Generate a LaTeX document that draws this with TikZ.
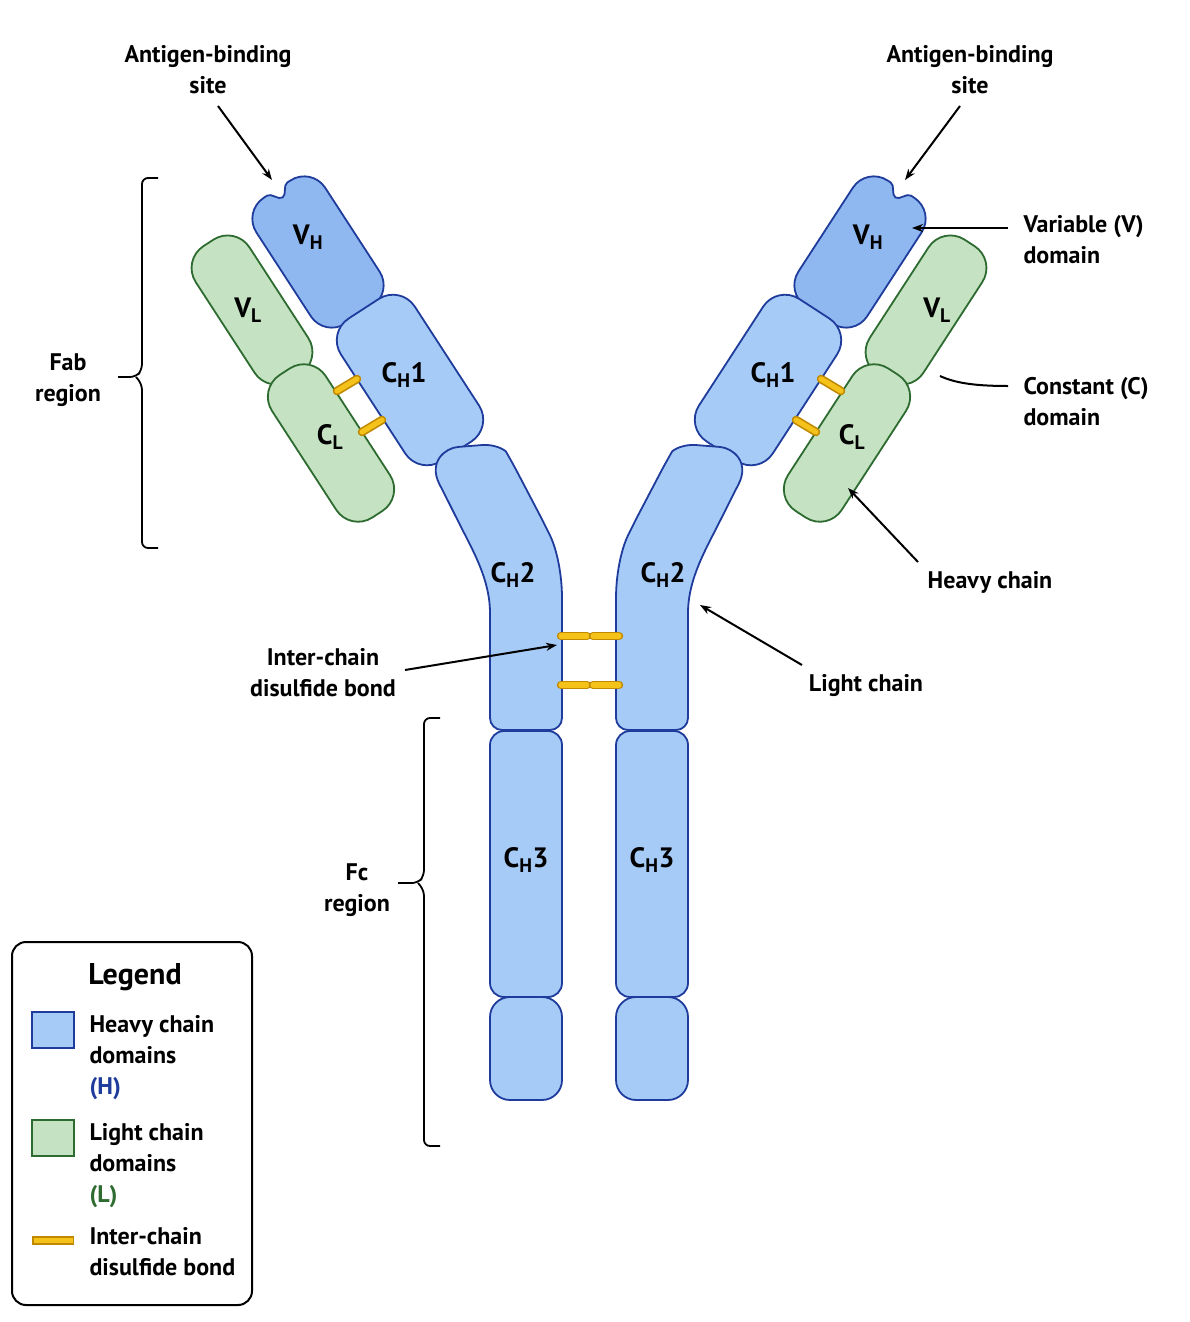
\documentclass[tikz,border=0pt]{standalone}
\usepackage{fontspec}
\setmainfont{PT Sans}
\usetikzlibrary{arrows.meta}
\definecolor{hfill}{HTML}{A6CBF7}
\definecolor{vhfill}{HTML}{8FB8F0}
\definecolor{hline}{HTML}{1F3C9C}
\definecolor{lfill}{HTML}{C5E3C3}
\definecolor{lline}{HTML}{2E6B30}
\definecolor{bond}{HTML}{F5C21A}
\definecolor{bondline}{HTML}{C08A00}
\tikzset{
 heavy/.style={draw=hline,fill=hfill,line width=1.8pt},
 vheavy/.style={draw=hline,fill=vhfill,line width=1.8pt},
 light/.style={draw=lline,fill=lfill,line width=1.8pt},
 bondo/.style={line width=8.5pt,draw=bondline,line cap=round},
 bondi/.style={line width=5.2pt,draw=bond,line cap=round},
 lab/.style={font=\bfseries\fontsize{24}{31}\selectfont,align=center},
 dom/.style={font=\bfseries\fontsize{28}{30}\selectfont},
 arr/.style={line width=2pt,-{Stealth[length=11pt,width=8pt]}},
 brk/.style={line width=1.8pt}
}
\newcommand{\rrect}[6]{% style, cx, cy, w, h, angle
 \path[#1,rounded corners=26pt,rotate around={#6:(#2,#3)}] ({#2-#4/2},{#3-#5/2}) rectangle ({#2+#4/2},{#3+#5/2});}
\newcommand{\bondbar}[4]{\draw[bondo] (#1,#2)--(#3,#4); \draw[bondi] (#1,#2)--(#3,#4);}
\newcommand{\armhalf}{%
 \rrect{light}{252}{310}{64}{160}{33}
 \rrect{light}{331}{443}{64}{170}{33}
 \path[vheavy,rotate around={33:(318,252)}] (277,202) arc[start angle=180,end angle=270,radius=25] -- (306,177) .. controls (311,177) and (313,187) .. (318,187) .. controls (323,187) and (325,177) .. (330,177) -- (334,177) arc[start angle=270,end angle=360,radius=25] -- (359,302) arc[start angle=0,end angle=90,radius=25] -- (302,327) arc[start angle=90,end angle=180,radius=25] -- cycle;
 \rrect{heavy}{410}{380}{88}{170}{33}
 \path[heavy,rounded corners=12pt] (490,730) -- (490,625) .. controls (490,585) and (478,560) .. (460,525) -- (445,495) .. controls (428,462) and (445,448) .. (470,446) .. controls (495,444) and (505,450) .. (512,462) -- (545,525) .. controls (557,550) and (562,575) .. (562,610) -- (562,730) -- cycle;
 \path[heavy,rounded corners=14pt] (490,731) rectangle (562,997);
 \path[heavy,rounded corners=20pt] (490,997) rectangle (562,1100);
 \bondbar{337}{391}{357}{379}
 \bondbar{362}{432}{382}{420}
}
\begin{document}
\begin{tikzpicture}[x=1pt,y=-1pt]
\useasboundingbox[fill=white] (0,0) rectangle (1190,1322);
\armhalf
\begin{scope}[shift={(1178,0)},xscale=-1]
\armhalf
\end{scope}
% hinge bonds
\bondbar{561}{636}{587}{636}\bondbar{593}{636}{619}{636}
\bondbar{561}{685}{587}{685}\bondbar{593}{685}{619}{685}
% domain labels
\node[dom] (vhl) at (308,237) {V\textsubscript{H}};
\node[dom] (vll) at (248,310) {V\textsubscript{L}};
\node[dom] (ch1l) at (404,375) {C\textsubscript{H}1};
\node[dom] (cll) at (330,437) {C\textsubscript{L}};
\node[dom] (ch2l) at (513,575) {C\textsubscript{H}2};
\node[dom] (ch3l) at (526,860) {C\textsubscript{H}3};
\node[dom] (vhr) at (868,237) {V\textsubscript{H}};
\node[dom] (vlr) at (937,310) {V\textsubscript{L}};
\node[dom] (ch1r) at (773,375) {C\textsubscript{H}1};
\node[dom] (clr) at (852,437) {C\textsubscript{L}};
\node[dom] (ch2r) at (663,575) {C\textsubscript{H}2};
\node[dom] (ch3r) at (652,860) {C\textsubscript{H}3};
% annotations
\node[lab] (abl) at (208,70) {Antigen-binding\\site};
\node[lab] (abr) at (970,70) {Antigen-binding\\site};
\coordinate (abtl) at (272,180); \coordinate (abtr) at (905,180);
\draw[arr] (218,106) -- (abtl);
\draw[arr] (960,106) -- (abtr);
\node[lab,align=left,anchor=west] (var) at (1020,240) {Variable (V)\\domain};
\coordinate (vart) at (912,228);
\draw[arr] (1008,228) -- (vart);
\node[lab,align=left,anchor=west] (con) at (1020,402) {Constant (C)\\domain};
\coordinate (cont) at (940,376);
\draw[line width=2pt] (1008,386) .. controls (975,386) and (955,383) .. (cont);
\node[lab] (hc) at (990,582) {Heavy chain};
\coordinate (hct) at (848,488);
\draw[arr] (918,562) -- (hct);
\node[lab] (lc) at (866,686) {Light chain};
\coordinate (lct) at (700,605);
\draw[arr] (802,665) -- (lct);
\node[lab] (icb) at (323,673) {Inter-chain\\disulfide bond};
\coordinate (icbt) at (557,645);
\draw[arr] (405,670) -- (icbt);
\node[lab] (fab) at (68,380) {Fab\\region};
\node[lab] (fc) at (357,890) {Fc\\region};
% brackets
\draw[brk,rounded corners=6pt] (158,178) -- (142,178) -- (142,370) -- (136,377) -- (118,377);
\draw[brk,rounded corners=6pt] (136,377) -- (142,384) -- (142,548) -- (158,548);
\draw[brk,rounded corners=6pt] (440,718) -- (424,718) -- (424,876) -- (418,883) -- (398,883);
\draw[brk,rounded corners=6pt] (418,883) -- (424,890) -- (424,1146) -- (440,1146);
% legend
\draw[line width=2pt,rounded corners=14pt] (12,942) rectangle (252,1305);
\node[font=\bfseries\fontsize{30}{32}\selectfont] (leg) at (135,977) {Legend};
\draw[heavy] (32,1012) rectangle (74,1048);
\node[lab,align=left,anchor=north west] (lh) at (86,1012) {Heavy chain\\domains\\\textcolor{hline}{(H)}};
\draw[light] (32,1120) rectangle (74,1156);
\node[lab,align=left,anchor=north west] (ll) at (86,1120) {Light chain\\domains\\\textcolor{lline}{(L)}};
\draw[line width=9pt,draw=bondline] (32,1240) -- (74,1240);
\draw[line width=5pt,draw=bond] (33.5,1240) -- (72.5,1240);
\node[lab,align=left,anchor=north west] (lb) at (86,1224) {Inter-chain\\disulfide bond};
\end{tikzpicture}
\end{document}
